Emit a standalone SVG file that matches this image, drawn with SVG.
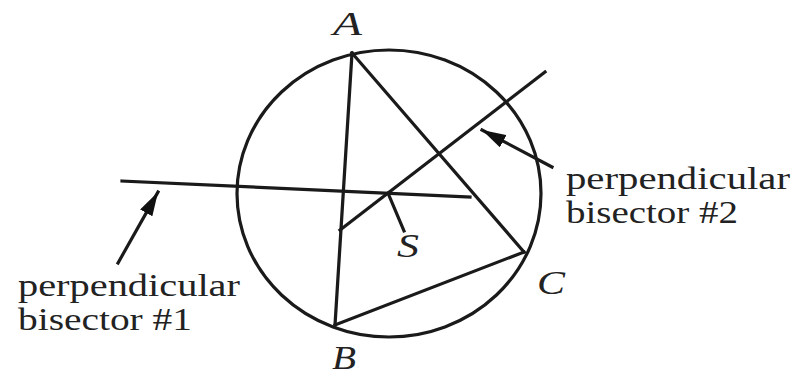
<svg xmlns="http://www.w3.org/2000/svg" width="804" height="376" viewBox="0 0 804 376">
<defs>
<style>
.ln{stroke:#1a1a1a;stroke-width:3.2;fill:none;stroke-linecap:square}
.lbl{font-family:"Liberation Serif","Times New Roman",serif;font-style:italic;font-size:33px;fill:#222}
.txt{font-family:"Liberation Serif","Times New Roman",serif;font-size:31px;fill:#222}
</style>
<marker id="ah" viewBox="0 0 24 14" refX="24" refY="7" markerWidth="24" markerHeight="14" markerUnits="userSpaceOnUse" orient="auto">
<path d="M0,0 L24,7 L0,14 Z" fill="#111"/>
</marker>
</defs>
<rect width="804" height="376" fill="#fff"/>
<g id="circle"><ellipse class="ln" cx="389" cy="193.5" rx="152" ry="143.5"/></g>
<g id="connectors">
<line class="ln" x1="352" y1="53" x2="335" y2="325"/>
<line class="ln" x1="352" y1="53" x2="524" y2="252"/>
<line class="ln" x1="335" y1="325" x2="524" y2="252"/>
<line class="ln" x1="122" y1="181" x2="470" y2="197"/>
<line class="ln" x1="545" y1="72" x2="340" y2="230"/>
<line class="ln" x1="388" y1="193" x2="404" y2="231"/>
<line class="ln" x1="118" y1="263" x2="158" y2="192" marker-end="url(#ah)"/>
<line class="ln" x1="552" y1="167" x2="482" y2="130" marker-end="url(#ah)"/>
</g>
<g id="A"><text class="lbl" x="333" y="35" textLength="29" lengthAdjust="spacingAndGlyphs">A</text></g>
<g id="B"><text class="lbl" x="332" y="369" textLength="24" lengthAdjust="spacingAndGlyphs">B</text></g>
<g id="C"><text class="lbl" x="537" y="294" textLength="28" lengthAdjust="spacingAndGlyphs">C</text></g>
<g id="S"><text class="lbl" x="397" y="257" textLength="22" lengthAdjust="spacingAndGlyphs">S</text></g>
<g id="label1">
<text class="txt" x="18" y="296" textLength="222" lengthAdjust="spacingAndGlyphs">perpendicular</text>
<text class="txt" x="18" y="330" textLength="174" lengthAdjust="spacingAndGlyphs">bisector #1</text>
</g>
<g id="label2">
<text class="txt" x="566" y="189" textLength="224" lengthAdjust="spacingAndGlyphs">perpendicular</text>
<text class="txt" x="566" y="223" textLength="172" lengthAdjust="spacingAndGlyphs">bisector #2</text>
</g>
</svg>
